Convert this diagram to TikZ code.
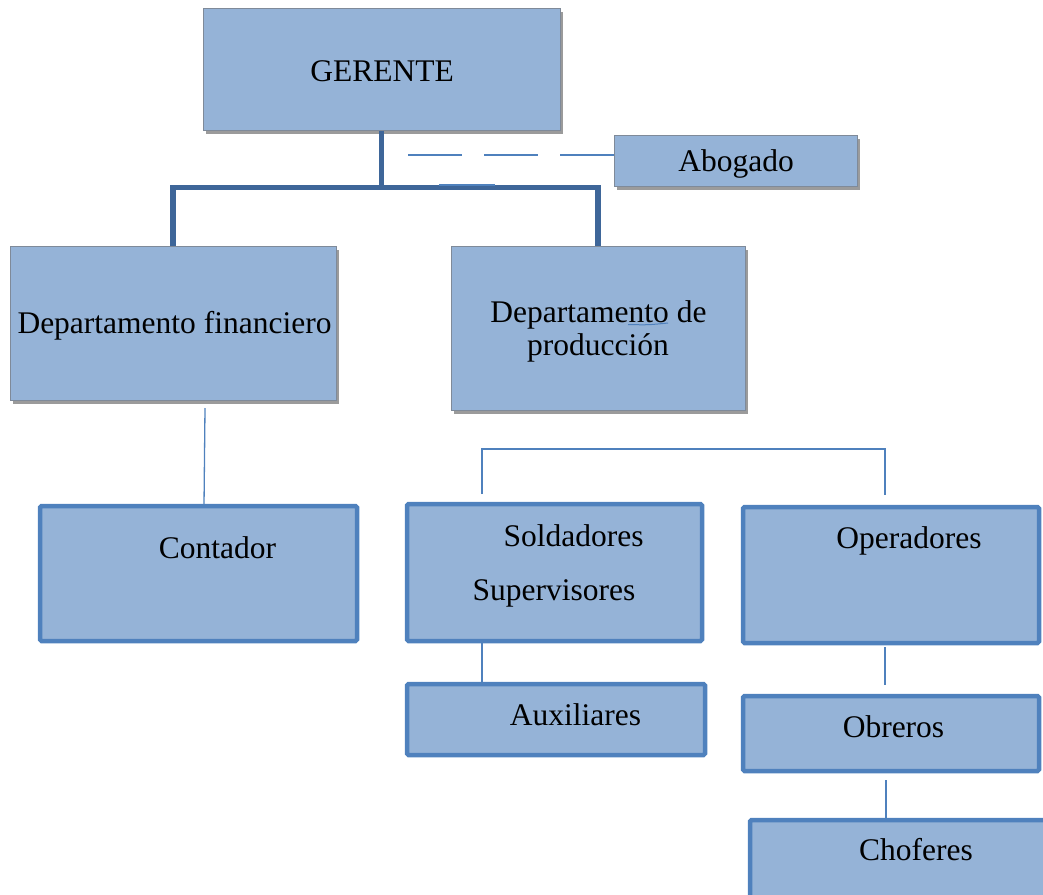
\documentclass[tikz,border=0pt]{standalone}
\usepackage{fontspec}
\setmainfont{Liberation Serif}
\usetikzlibrary{shadows}
\definecolor{boxfill}{HTML}{95B3D7}
\definecolor{boxedge}{HTML}{4F81BD}
\definecolor{trunk}{HTML}{3E6699}
\definecolor{greyedge}{HTML}{7F8A99}
\tikzset{
  topbox/.style={rectangle, fill=boxfill, draw=greyedge, line width=1pt,
    drop shadow={shadow xshift=2.5pt, shadow yshift=-3.5pt, fill=black!65, opacity=0.6}},
  lowbox/.style={rectangle, fill=boxfill, draw=boxedge, line width=4.5pt, rounded corners=1.5pt},
  txt/.style={anchor=base, inner sep=0pt, font=\fontsize{31.5}{33}\selectfont, align=center},
  trunkline/.style={draw=trunk, line width=5.5pt},
  thinline/.style={draw=boxedge, line width=1.3pt},
}
\begin{document}
\begin{tikzpicture}[x=1pt,y=-1pt]
\useasboundingbox (0,0) rectangle (1043,894);

% upper level
\node[topbox, minimum width=357pt, minimum height=122pt] (ger) at (381.5,69) {};
\node[topbox, minimum width=243pt, minimum height=51pt] (abo) at (735.5,160.5) {};
\node[topbox, minimum width=326pt, minimum height=154pt] (fin) at (173,323) {};
\node[topbox, minimum width=294pt, minimum height=164pt] (prod) at (598,328) {};

% lower level
\node[lowbox, minimum width=317pt, minimum height=135pt] (cont) at (198.5,573.5) {};
\node[lowbox, minimum width=295pt, minimum height=137pt] (sold) at (554.5,572.5) {};
\node[lowbox, minimum width=296pt, minimum height=136pt] (oper) at (891,575) {};
\node[lowbox, minimum width=298pt, minimum height=71pt] (aux) at (556,719.5) {};
\node[lowbox, minimum width=296pt, minimum height=75pt] (obr) at (891,733.5) {};
\node[lowbox, minimum width=300pt, minimum height=80pt] (cho) at (900,860) {};

% labels
\node[txt] (tger) at (382,81) {GERENTE};
\node[txt] (tabo) at (736,171) {Abogado};
\node[txt] (tfin) at (174.5,333) {Departamento financiero};
\node[txt] (tprod1) at (598.5,322) {Departamento de};
\node[txt] (tprod2) at (598,355) {producción};
\node[txt] (tcont) at (217.5,558) {Contador};
\node[txt] (tsold) at (573.5,546) {Soldadores};
\node[txt] (tsup) at (554,600) {Supervisores};
\node[txt] (toper) at (909,548) {Operadores};
\node[txt] (taux) at (575.5,725) {Auxiliares};
\node[txt] (tobr) at (893.5,737) {Obreros};
\node[txt] (tcho) at (916,860) {Choferes};

% main trunk from the manager to both departments
\draw[trunkline] (ger.south) -- ++(0,57) coordinate (junc);
\draw[trunkline] (fin.north) |- (junc) -| (prod.north);

% advisory link to the lawyer
\coordinate (dstart) at (407,155);
\draw[thinline, dash pattern=on 54pt off 22pt] (abo.west |- dstart) -- (dstart);
\coordinate (s1) at (439,185);
\coordinate (s2) at (495,185);
\draw[thinline] (s1) -- (s2);

% mark under the word in the production box
\coordinate (u1) at (628,324.5);
\coordinate (u2) at (668,323);
\draw[thinline, line width=1pt] (u1) .. controls (648,325) .. (u2);

% finance to accountant
\coordinate (f1) at (205,408);
\coordinate (f2) at (204,506);
\draw[thinline] (f1) -- (f2);

% production bracket
\coordinate (b1) at (482,494);
\coordinate (bt) at (482,449);
\coordinate (b2) at (885,495);
\draw[thinline] (b1) -- (bt) -| (b2);

% welders to assistants
\draw[thinline] (sold.south -| b1) -- (aux.north -| b1);

% operators to workers to drivers
\coordinate (o1) at (885,647);
\coordinate (o2) at (885,685);
\draw[thinline] (o1) -- (o2);
\coordinate (w1) at (886,780);
\draw[thinline] (w1) -- (w1 |- cho.north);
\end{tikzpicture}
\end{document}
